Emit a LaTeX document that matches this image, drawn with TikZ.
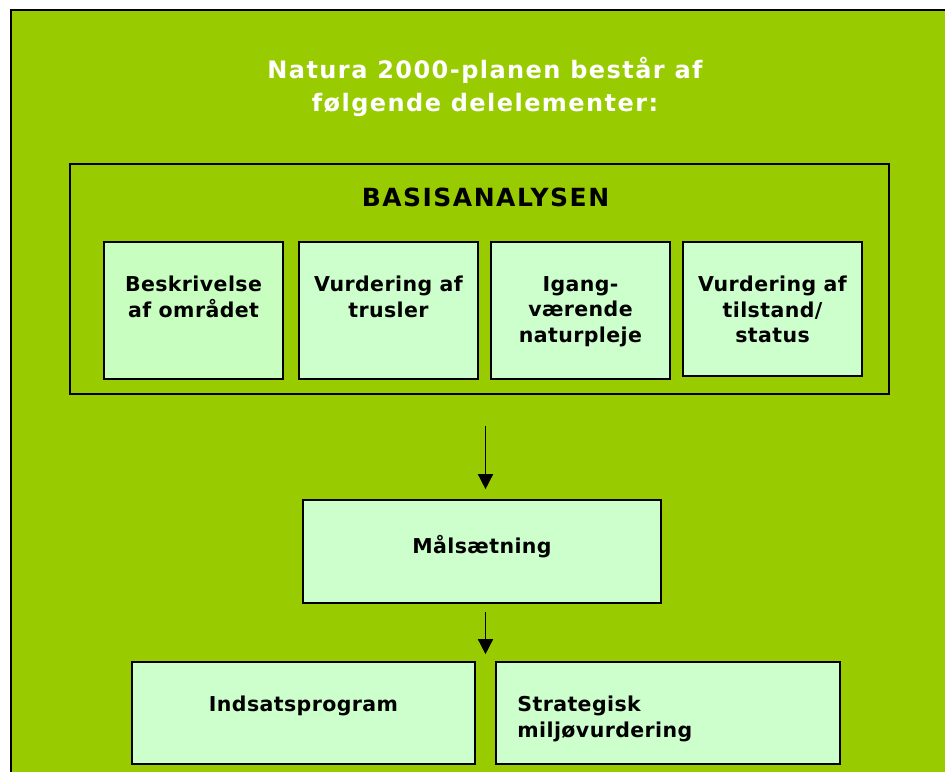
\documentclass[tikz,border=0pt]{standalone}
\usepackage{fontspec}
\setmainfont{DejaVu Sans}
\newfontfamily\headfont{DejaVu Sans Bold}[LetterSpace=6]
\newfontfamily\basisfont{DejaVu Sans Bold}[LetterSpace=6]
\newfontfamily\partfont{DejaVu Sans Bold}[LetterSpace=2]
\usetikzlibrary{positioning,arrows.meta,calc}
\definecolor{natgreen}{HTML}{99CC00}
\definecolor{partgreen}{HTML}{CCFFCC}
\definecolor{partgreenA}{HTML}{C8FFC0}
\tikzset{
  frame/.style={draw=black,line width=2pt,inner sep=0pt},
  part/.style={draw=black,line width=1.6pt,fill=partgreen,inner sep=0pt},
  parttext/.style={font=\partfont\fontsize{20.5}{25.5}\selectfont,align=center,inner sep=0pt},
  arr/.style={-{Triangle[width=15pt,length=15pt]},line width=1.5pt},
}
\begin{document}
\begin{tikzpicture}[x=1pt,y=1pt]
  \useasboundingbox (0,0) rectangle (945,771);
  \clip (0,0) rectangle (945,771);
  \fill[natgreen] (11,-5) rectangle (950,761);
  \draw[line width=2pt] (11,-5)--(11,761)--(950,761); %ramme

  \node[white,font=\headfont\fontsize{24}{33}\selectfont,align=center] (title) at (485,684)
    {Natura 2000-planen består af\\følgende delelementer:};

  % basisanalysen
  \node[frame,minimum width=819pt,minimum height=230pt] (basis) at (479.5,492) {};
  \node[font=\basisfont\fontsize{25}{28}\selectfont] (basistitle) at (485.5,573.5) {BASISANALYSEN};

  \node[part,fill=partgreenA,minimum width=179pt,minimum height=137pt] (omraade) at (193.5,460.5) {};
  \node[part,minimum width=179pt,minimum height=137pt] (trusler) at (388.5,460.5) {};
  \node[part,minimum width=179pt,minimum height=137pt] (pleje) at (580.5,460.5) {};
  \node[part,minimum width=179pt,minimum height=134pt] (tilstand) at (772.5,462) {};
  \node[parttext,below=35pt of omraade.north] (omraadetxt) {Beskrivelse\\af området};
  \node[parttext,below=35pt of trusler.north] (truslertxt) {Vurdering af\\trusler};
  \node[parttext,below=35pt of pleje.north] (plejetxt) {Igang-\\værende\\naturpleje};
  \node[parttext,below=35pt of tilstand.north] (tilstandtxt) {Vurdering af\\tilstand/\\status};

  % maalsaetning
  \node[part,minimum width=358pt,minimum height=103pt] (maal) at (482,219.5) {};
  \node[parttext,below=36pt of maal.north] (maaltxt) {Målsætning};

  % indsats og miljoevurdering
  \node[part,minimum width=343pt,minimum height=102pt] (indsats) at (303.5,58) {};
  \node[part,minimum width=344pt,minimum height=102pt] (strategi) at (668,58) {};
  \node[parttext,below=35pt of indsats.north] (indsatstxt) {Indsatsprogram};
  \node[parttext,align=left,anchor=north west] (strategitxt) at ([xshift=22pt,yshift=-35pt]strategi.north west)
    {Strategisk\\miljøvurdering};
  \coordinate (split) at ($(indsats.north east)!.5!(strategi.north west)$);
  \coordinate (stem) at (maal.south -| split);

  \draw[arr] ([xshift=6pt,yshift=-31pt]basis.south) -- ([xshift=3.5pt,yshift=10pt]maal.north);
  \draw[arr] ([yshift=-8pt]stem) -- ([yshift=7pt]split);
\end{tikzpicture}
\end{document}
